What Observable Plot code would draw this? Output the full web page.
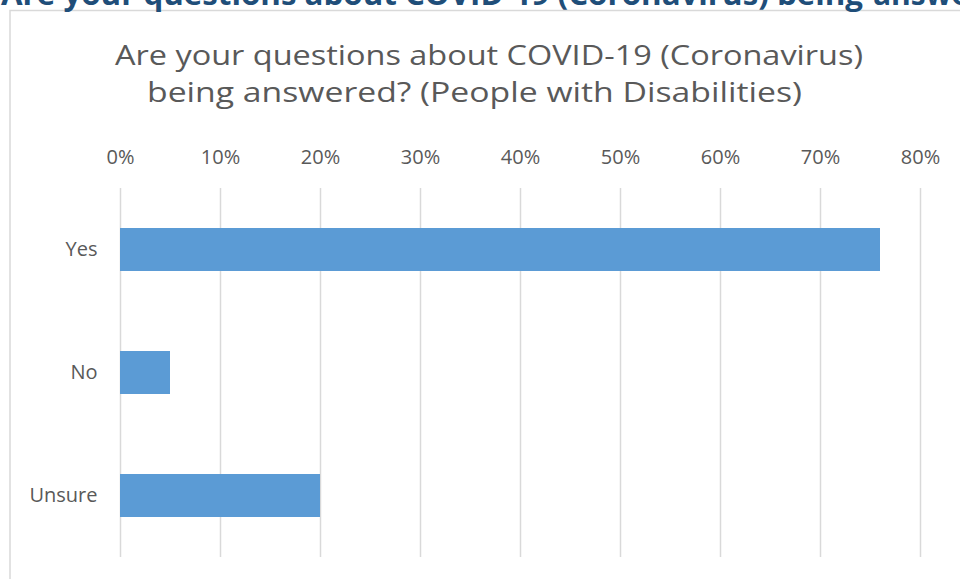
<!DOCTYPE html>
<html>
<head>
<meta charset="utf-8">
<script src="https://cdn.jsdelivr.net/npm/d3@7"></script>
<script src="https://cdn.jsdelivr.net/npm/@observablehq/plot@0.6"></script>
<style>
  html, body { margin: 0; padding: 0; background: #fff; }
  #chart { position: relative; width: 960px; height: 579px; overflow: hidden; }
</style>
</head>
<body>
<div id="chart"></div>
<script>
const categories = ["Yes", "No", "Unsure"];
const values = [0.76, 0.05, 0.20];
const xTicks = [0, 0.1, 0.2, 0.3, 0.4, 0.5, 0.6, 0.7, 0.8];
const pageTitle = "Are your questions about COVID-19 (Coronavirus) being";
const pageTitleRest = "answered? (People with Disabilities)";
const titleLine1 = "Are your questions about COVID-19 (Coronavirus)";
const titleLine2 = "being answered? (People with Disabilities)";

const data = categories.map((c, i) => ({category: c, value: values[i]}));
const pct = d => Math.round(d * 100) + "%";

const chart = Plot.plot({
  width: 960,
  height: 579,
  marginLeft: 120,
  marginRight: 40,
  marginTop: 188,
  marginBottom: 22,
  style: {fontFamily: "'Open Sans', sans-serif", fontSize: "20px", color: "#595959", background: "white"},
  x: {domain: [0, 0.8]},
  y: {domain: categories, paddingInner: 0.65, paddingOuter: 0.325},
  marks: [
    Plot.gridX(xTicks, {stroke: "#d9d9d9", strokeOpacity: 1, strokeWidth: 1.5}),
    Plot.barX(data, {x: "value", y: "category", fill: "#5B9BD5"}),
    Plot.axisX(xTicks, {anchor: "top", tickSize: 0, tickPadding: 25, tickFormat: pct, fill: "#595959", fontSize: 20, label: null}),
    Plot.axisY({tickSize: 0, tickPadding: 23, fill: "#595959", fontSize: 20, label: null})
  ]
});

const svg = d3.select(chart);
// chart area border
svg.insert("rect", ":first-child")
  .attr("x", 10).attr("y", 10.5).attr("width", 1000).attr("height", 1000)
  .attr("fill", "none").attr("stroke", "#d9d9d9").attr("stroke-width", 1.5);

const font = "'Open Sans', sans-serif";
// page heading (cut off at top)
svg.append("text").text(pageTitle)
  .attr("x", 1).attr("y", 5).attr("text-anchor", "start")
  .attr("textLength", 862).attr("lengthAdjust", "spacingAndGlyphs")
  .attr("fill", "#1F4E79").attr("font-weight", "bold").attr("font-size", 30)
  .attr("font-family", font);
svg.append("text").text(pageTitleRest)
  .attr("x", 873).attr("y", 5).attr("text-anchor", "start")
  .attr("fill", "#1F4E79").attr("font-weight", "bold").attr("font-size", 30)
  .attr("font-family", font);

// chart title
svg.append("text").text(titleLine1)
  .attr("x", 115).attr("y", 65).attr("text-anchor", "start")
  .attr("textLength", 748).attr("lengthAdjust", "spacingAndGlyphs")
  .attr("fill", "#595959").attr("font-size", 28)
  .attr("font-family", font);
svg.append("text").text(titleLine2)
  .attr("x", 147).attr("y", 102).attr("text-anchor", "start")
  .attr("textLength", 655).attr("lengthAdjust", "spacingAndGlyphs")
  .attr("fill", "#595959").attr("font-size", 28)
  .attr("font-family", font);

document.getElementById("chart").appendChild(chart);
</script>
</body>
</html>
